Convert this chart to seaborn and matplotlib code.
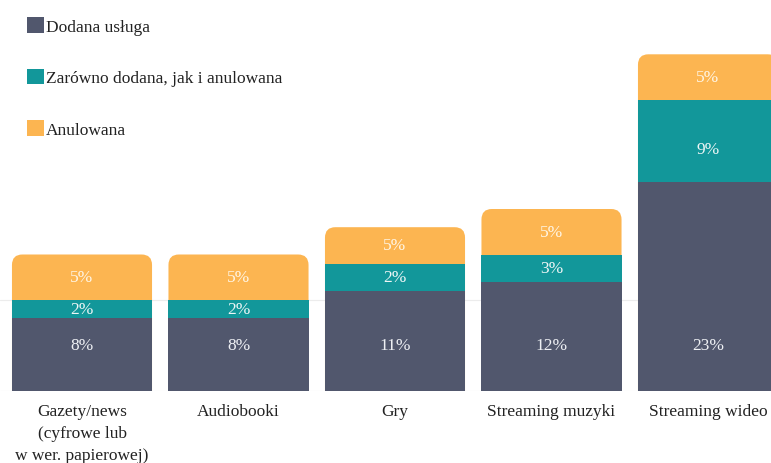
import numpy as np
import pandas as pd
import matplotlib
matplotlib.use("Agg")
import matplotlib.pyplot as plt
import seaborn as sns
from matplotlib.path import Path
from matplotlib.patches import PathPatch, Patch

categories = ["Gazety/news\n(cyfrowe lub\nw wer. papierowej)", "Audiobooki", "Gry",
              "Streaming muzyki", "Streaming wideo"]
dodana = [8, 8, 11, 12, 23]
oba = [2, 2, 3, 3, 9]
anulowana = [5, 5, 4, 5, 5]
labels_dodana = ["8%", "8%", "11%", "12%", "23%"]
labels_oba = ["2%", "2%", "2%", "3%", "9%"]
labels_anul = ["5%", "5%", "5%", "5%", "5%"]
series_names = ["Dodana usługa", "Zarówno dodana, jak i anulowana", "Anulowana"]

c_dark = "#51576d"
c_teal = "#12979a"
c_orange = "#fcb551"

sns.set_theme(style="white")
plt.rcParams["font.family"] = ["Liberation Serif", "DejaVu Serif"]

df = pd.DataFrame({"cat": categories, "d": dodana, "o": oba, "a": anulowana})
df["top2"] = df["d"] + df["o"]
df["top3"] = df["top2"] + df["a"]

fig = plt.figure(figsize=(7.71, 4.64), dpi=100)
ax = fig.add_axes([0, 72 / 464, 1, 392 / 464])

W = 0.895
ax.axhline(10, color="#ececec", lw=0.8, zorder=0)
ax.axhline(0, color="#e6e6e6", lw=0.8, zorder=0)

bar_kw = dict(width=W, saturation=1, linewidth=0, edgecolor="none", ax=ax)
sns.barplot(data=df, x="cat", y="top3", color=c_orange, zorder=2, **bar_kw)
n_orange = len(ax.patches)
sns.barplot(data=df, x="cat", y="top2", color=c_teal, zorder=3, **bar_kw)
sns.barplot(data=df, x="cat", y="d", color=c_dark, zorder=4, **bar_kw)

# rounded top corners for the outer (orange) bars
rx, ry = 0.066, 1.15
for p in list(ax.patches[:n_orange]):
    x0 = p.get_x(); x1 = x0 + p.get_width()
    y0 = p.get_y(); y1 = y0 + p.get_height()
    verts = [(x0, y0), (x1, y0), (x1, y1 - ry), (x1, y1), (x1 - rx, y1),
             (x0 + rx, y1), (x0, y1), (x0, y1 - ry), (x0, y0)]
    codes = [Path.MOVETO, Path.LINETO, Path.LINETO, Path.CURVE3, Path.CURVE3,
             Path.LINETO, Path.CURVE3, Path.CURVE3, Path.CLOSEPOLY]
    pp = PathPatch(Path(verts, codes), facecolor=c_orange, edgecolor="none", zorder=2)
    p.set_visible(False)
    ax.add_patch(pp)

fs = 12.5
for i in range(len(categories)):
    ax.text(i, 5.0, labels_dodana[i], ha="center", va="center", color="#eef0f4",
            fontsize=fs, zorder=6)
    ax.text(i, dodana[i] + oba[i] / 2 - (0.9 if oba[i] > 5 else 0), labels_oba[i],
            ha="center", va="center", color="#eef6f6", fontsize=fs, zorder=6)
    ax.text(i, dodana[i] + oba[i] + anulowana[i] / 2, labels_anul[i], ha="center",
            va="center", color="#fff6e6", fontsize=fs, zorder=6)

ax.set_xlim(-82 / 156.5, (771 - 82) / 156.5)
ax.set_ylim(0, 392 / 9.1)
ax.set_xlabel("")
ax.set_ylabel("")
ax.set_yticks([])
sns.despine(ax=ax, left=True, bottom=True, top=True, right=True)
ax.tick_params(axis="x", length=0, pad=9, labelsize=fs, labelcolor="#222222")
for t in ax.get_xticklabels():
    t.set_linespacing(1.5)

handles = [Patch(facecolor=c, edgecolor="none") for c in (c_dark, c_teal, c_orange)]
fig.legend(handles, series_names, loc="upper left",
           bbox_to_anchor=(27 / 771, 1 - 18 / 464), bbox_transform=fig.transFigure,
           frameon=False, fontsize=fs, handlelength=1.0, handleheight=1.0,
           handletextpad=0.1, labelspacing=1.95, borderpad=0, borderaxespad=0,
           labelcolor="#222222")

fig.savefig("out.png", dpi=100)
